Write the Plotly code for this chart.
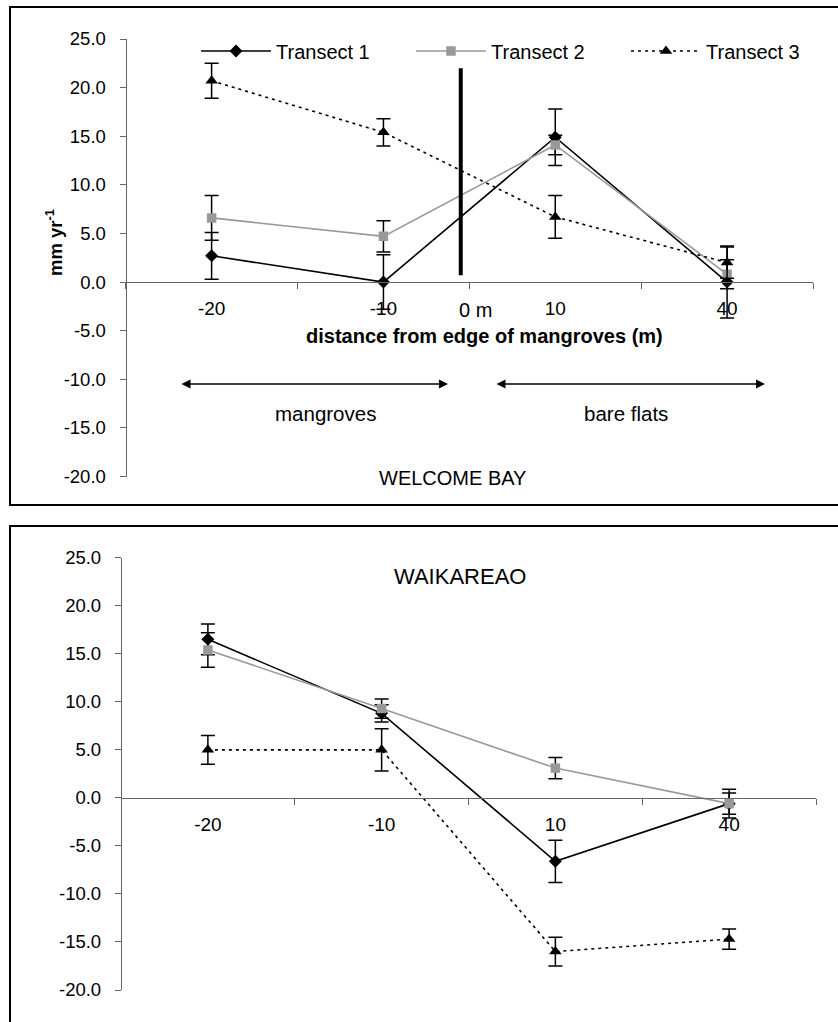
import plotly.graph_objects as go

W, H = 838, 1022

# ---- data -------------------------------------------------------------
distances = ["-20", "-10", "10", "40"]
transect_names = ["Transect 1", "Transect 2", "Transect 3"]

# Welcome Bay sedimentation rates (mm/yr) and standard errors
wb_t1 = [2.7, 0.0, 14.9, 0.0]
wb_t1_se = [2.4, 2.8, 2.9, 3.7]
wb_t2 = [6.6, 4.7, 14.1, 0.8]
wb_t2_se = [2.3, 1.6, 1.0, 1.5]
wb_t3 = [20.7, 15.4, 6.7, 2.0]
wb_t3_se = [1.8, 1.4, 2.2, 1.6]

# Waikareao sedimentation rates (mm/yr) and standard errors
wk_t1 = [16.5, 8.8, -6.6, -0.6]
wk_t1_se = [1.6, 0.9, 2.2, 1.5]
wk_t2 = [15.4, 9.3, 3.1, -0.6]
wk_t2_se = [1.8, 1.0, 1.1, 1.1]
wk_t3 = [5.0, 5.0, -16.0, -14.7]
wk_t3_se = [1.5, 2.2, 1.5, 1.05]

y_tickvals = [-20, -15, -10, -5, 0, 5, 10, 15, 20, 25]
y_ticktext = ["-20.0", "-15.0", "-10.0", "-5.0", "0.0", "5.0", "10.0", "15.0", "20.0", "25.0"]

# mangrove edge marker (category-axis position, y extent)
edge_position = 1.45
edge_extent = [0.7, 22.0]

# ---- helpers ----------------------------------------------------------
FONT = "Liberation Sans, Arial, sans-serif"


def xp(px):
    return px / W


def yp(py):
    return 1 - py / H


styles = [
    dict(color="black", symbol="diamond", size=10, dash="solid", mcolor="black"),
    dict(color="#999999", symbol="square", size=9.5, dash="solid", mcolor="#999999"),
    dict(color="black", symbol="triangle-up", size=11, dash="3px,4px", mcolor="black"),
]


def series(name, values, errors, style, xa, ya, legend):
    return go.Scatter(
        x=distances, y=values, name=name, mode="lines+markers",
        xaxis=xa, yaxis=ya, showlegend=legend,
        line=dict(color=style["color"], width=1.6, dash=style["dash"]),
        marker=dict(symbol=style["symbol"], size=style["size"], color=style["mcolor"],
                    line=dict(width=0)),
        error_y=dict(type="data", array=errors, visible=True, color="black",
                     thickness=1.5, width=7),
    )


fig = go.Figure()
top_sets = [(wb_t1, wb_t1_se), (wb_t2, wb_t2_se), (wb_t3, wb_t3_se)]
bot_sets = [(wk_t1, wk_t1_se), (wk_t2, wk_t2_se), (wk_t3, wk_t3_se)]
for name, (v, e), st in zip(transect_names, top_sets, styles):
    fig.add_trace(series(name, v, e, st, "x", "y", True))
for name, (v, e), st in zip(transect_names, bot_sets, styles):
    fig.add_trace(series(name, v, e, st, "x2", "y2", False))

# ---- axes -------------------------------------------------------------
AX_COL = "#666666"
top_x0, top_x1, top_ytop, top_ybot, top_zero = 125.7, 813, 39, 476.5, 282
bot_x0, bot_x1, bot_ytop, bot_ybot, bot_zero = 121, 816, 557.7, 990, 797.9


def xaxis_cfg(x0, x1, zero_px):
    return dict(type="category", categoryorder="array", categoryarray=distances,
                range=[-0.5, 3.5], domain=[xp(x0), xp(x1)], anchor="free",
                position=yp(zero_px), showline=True, linecolor=AX_COL, linewidth=1.3,
                ticks="outside", tickson="boundaries", ticklen=6, tickcolor=AX_COL,
                tickwidth=1.3, tickfont=dict(size=19, color="black", family=FONT),
                ticklabelstandoff=9, showgrid=False, zeroline=False,
                automargin=False, fixedrange=True)


def yaxis_cfg(x0, ytop, ybot):
    return dict(range=[-20, 25], domain=[yp(ybot), yp(ytop)], anchor="free",
                position=xp(x0), tickvals=y_tickvals, ticktext=y_ticktext,
                showline=True, linecolor=AX_COL, linewidth=1.3, ticks="outside",
                ticklen=6, tickcolor=AX_COL, tickwidth=1.3,
                tickfont=dict(size=18.5, color="black", family=FONT),
                ticklabelstandoff=10, showgrid=False, zeroline=False,
                automargin=False, fixedrange=True)


fig.update_layout(
    template="none",
    width=W, height=H, margin=dict(l=0, r=0, t=0, b=0, autoexpand=False),
    paper_bgcolor="white", plot_bgcolor="rgba(0,0,0,0)",
    font=dict(family=FONT, color="black"),
    xaxis=xaxis_cfg(top_x0, top_x1, top_zero),
    yaxis=yaxis_cfg(top_x0, top_ytop, top_ybot),
    xaxis2=xaxis_cfg(bot_x0, bot_x1, bot_zero),
    yaxis2=yaxis_cfg(bot_x0, bot_ytop, bot_ybot),
    legend=dict(orientation="h", x=xp(196), y=yp(51), xanchor="left", yanchor="middle",
                font=dict(size=20, family=FONT), itemwidth=70,
                entrywidthmode="pixels", entrywidth=130,
                bgcolor="rgba(0,0,0,0)", borderwidth=0),
)

# ---- panel frames -----------------------------------------------------
fig.add_shape(type="rect", xref="paper", yref="paper", x0=xp(10), x1=xp(842),
              y0=yp(505), y1=yp(7), line=dict(color="black", width=2), layer="below")
fig.add_shape(type="rect", xref="paper", yref="paper", x0=xp(10), x1=xp(842),
              y0=yp(1030), y1=yp(526), line=dict(color="black", width=2), layer="below")

# mangrove edge line
fig.add_shape(type="line", xref="x", yref="y", x0=edge_position, x1=edge_position,
              y0=edge_extent[0], y1=edge_extent[1], line=dict(color="black", width=4))

# ---- text and arrows --------------------------------------------------
def label(text, px, py, size, angle=0):
    fig.add_annotation(text=text, x=xp(px), y=yp(py), xref="paper", yref="paper",
                       showarrow=False, xanchor="center", yanchor="middle",
                       textangle=angle, font=dict(size=size, family=FONT, color="black"))


label("<b>mm yr<sup>-1</sup></b>", 54, 243, 18.5, angle=-90)
label("0 m", 475, 310, 20)
label("<b>distance from edge of mangroves (m)</b>", 484, 336, 20)
label("mangroves", 325, 413, 20.5)
label("bare flats", 626, 413, 20.5)
label("WELCOME BAY", 453, 478, 20)
label("WAIKAREAO", 460, 576, 22)

for head, tail in [(448, 180), (765, 495)]:
    fig.add_annotation(x=xp(head), y=yp(384), xref="paper", yref="paper",
                       ax=tail - head, ay=0, text="", showarrow=True,
                       arrowside="end+start", arrowhead=2, arrowsize=1.2,
                       arrowwidth=1.5, arrowcolor="black")

fig.write_html("out.html")
